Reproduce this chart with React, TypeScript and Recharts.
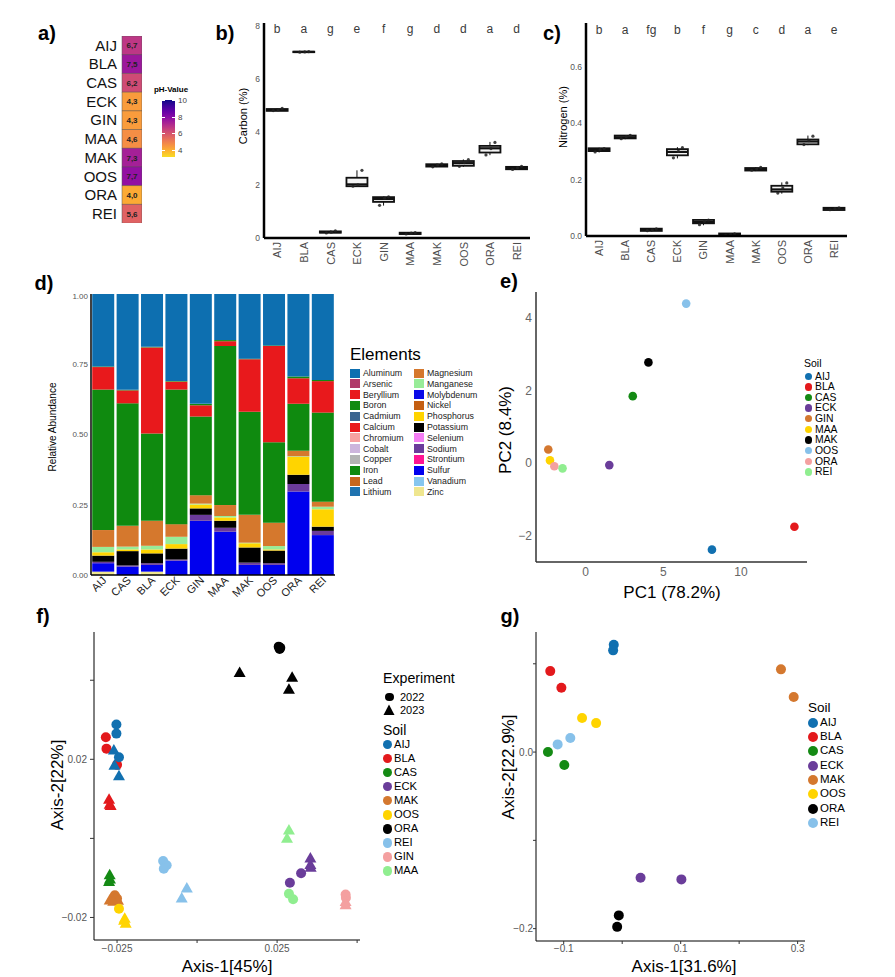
import React from 'react';
import { BarChart, Bar, XAxis, YAxis, Cell, LabelList, ScatterChart, Scatter } from 'recharts';

const FONT = '"Liberation Sans", Arial, Helvetica, sans-serif';

// ---- a) pH heatmap
const phSites = ['AIJ', 'BLA', 'CAS', 'ECK', 'GIN', 'MAA', 'MAK', 'OOS', 'ORA', 'REI'];
const phValues = [6.7, 7.5, 6.2, 4.3, 4.3, 4.6, 7.3, 7.7, 4.0, 5.6];
const phTicks = [10, 8, 6, 4];

// ---- b/c) carbon + nitrogen boxplots
const boxSites = ['AIJ', 'BLA', 'CAS', 'ECK', 'GIN', 'MAA', 'MAK', 'OOS', 'ORA', 'REI'];
const carbonMin = [4.78, 6.99, 0.18, 1.93, 1.22, 0.14, 2.67, 2.68, 3.12, 2.57];
const carbonQ1 = [4.79, 7.0, 0.2, 1.95, 1.36, 0.15, 2.69, 2.72, 3.22, 2.59];
const carbonMed = [4.82, 7.01, 0.22, 2.02, 1.47, 0.17, 2.74, 2.82, 3.38, 2.64];
const carbonQ3 = [4.86, 7.02, 0.25, 2.27, 1.54, 0.2, 2.78, 2.9, 3.47, 2.68];
const carbonMax = [4.88, 7.03, 0.28, 2.55, 1.56, 0.21, 2.8, 2.96, 3.62, 2.71];
const carbonPts = [
  [4.8, 4.83, 4.88], [7.0, 7.01, 7.02], [0.19, 0.22, 0.27], [1.95, 2.0, 2.55], [1.23, 1.5, 1.55],
  [0.15, 0.18, 0.2], [2.68, 2.75, 2.79], [2.7, 2.84, 2.95], [3.13, 3.37, 3.6], [2.58, 2.65, 2.7],
];
const carbonLetters = ['b', 'a', 'g', 'e', 'f', 'g', 'd', 'd', 'a', 'd'];

const nitroMin = [0.296, 0.343, 0.016, 0.275, 0.038, 0.0, 0.23, 0.15, 0.322, 0.09];
const nitroQ1 = [0.301, 0.346, 0.018, 0.286, 0.045, 0.001, 0.232, 0.157, 0.325, 0.092];
const nitroMed = [0.305, 0.35, 0.022, 0.298, 0.05, 0.005, 0.237, 0.165, 0.335, 0.097];
const nitroQ3 = [0.311, 0.356, 0.026, 0.308, 0.057, 0.009, 0.241, 0.178, 0.342, 0.1];
const nitroMax = [0.313, 0.358, 0.027, 0.315, 0.058, 0.01, 0.244, 0.19, 0.356, 0.101];
const nitroPts = [
  [0.298, 0.306, 0.31], [0.345, 0.352, 0.357], [0.019, 0.022, 0.025], [0.277, 0.3, 0.313], [0.04, 0.052, 0.056],
  [0.002, 0.005, 0.008], [0.233, 0.238, 0.243], [0.152, 0.17, 0.188], [0.324, 0.338, 0.354], [0.093, 0.097, 0.1],
];
const nitroLetters = ['b', 'a', 'fg', 'b', 'f', 'g', 'c', 'd', 'a', 'e'];

// ---- d) element composition (stack order bottom -> top)
const dSites = ['AIJ', 'CAS', 'BLA', 'ECK', 'GIN', 'MAA', 'MAK', 'OOS', 'ORA', 'REI'];
const zinc = [0.012, 0, 0.012, 0, 0, 0, 0, 0, 0, 0];
const sulfur = [0.03, 0.03, 0.024, 0.051, 0.193, 0.154, 0.036, 0.036, 0.297, 0.142];
const sodium = [0.005, 0.004, 0.006, 0.004, 0.021, 0.014, 0.008, 0.006, 0.027, 0.015];
const potassium = [0.022, 0.051, 0.035, 0.039, 0.023, 0.025, 0.054, 0.045, 0.033, 0.015];
const phosphorus = [0.012, 0.006, 0.014, 0.016, 0.014, 0.012, 0.015, 0.004, 0.064, 0.062];
const manganese = [0.019, 0.01, 0.013, 0.026, 0.003, 0.005, 0.002, 0.012, 0.002, 0.009];
const magnesium = [0.06, 0.074, 0.089, 0.045, 0.03, 0.039, 0.099, 0.083, 0.019, 0.018];
const iron = [0.5, 0.436, 0.311, 0.479, 0.28, 0.566, 0.367, 0.286, 0.167, 0.317];
const calcium = [0.08, 0.046, 0.306, 0.028, 0.04, 0.017, 0.187, 0.343, 0.091, 0.112];
const boron = [0.002, 0.002, 0.002, 0.002, 0.005, 0.004, 0.002, 0.002, 0.006, 0.004];
const aluminum = [0.258, 0.341, 0.188, 0.31, 0.391, 0.164, 0.23, 0.183, 0.294, 0.306];

const elementNames = [
  'Aluminum', 'Arsenic', 'Beryllium', 'Boron', 'Cadmium', 'Calcium', 'Chromium', 'Cobalt', 'Copper', 'Iron', 'Lead', 'Lithium',
  'Magnesium', 'Manganese', 'Molybdenum', 'Nickel', 'Phosphorus', 'Potassium', 'Selenium', 'Sodium', 'Strontium', 'Sulfur', 'Vanadium', 'Zinc',
];
const elementColors = [
  '#0d6fb0', '#b03a6a', '#e8191c', '#118a11', '#3b6590', '#e8191c', '#f7a1a1', '#cdb5dc', '#b4b4b4', '#0f8a0f', '#c8671e', '#1f73b0',
  '#d5782d', '#98ec98', '#0a0ae8', '#c45f12', '#ffd400', '#000000', '#f47ef4', '#6b3b9b', '#ff1493', '#0000ee', '#86c6ef', '#efe68f',
];

// ---- e) PCA
const pcaSoil = ['AIJ', 'BLA', 'CAS', 'ECK', 'GIN', 'MAA', 'MAK', 'OOS', 'ORA', 'REI'];
const pc1 = [8.13, 13.44, 3.03, 1.52, -2.41, -2.3, 4.04, 6.47, -2.02, -1.49];
const pc2 = [-2.39, -1.76, 1.84, -0.06, 0.37, 0.07, 2.77, 4.39, -0.09, -0.15];

// ---- f) PCoA both years
const fSoil = [
  'ORA', 'ORA', 'ORA', 'ORA', 'ORA', 'ORA',
  'BLA', 'BLA', 'BLA', 'AIJ', 'AIJ', 'AIJ', 'AIJ', 'AIJ', 'AIJ',
  'BLA', 'BLA', 'BLA', 'CAS', 'CAS', 'CAS',
  'MAK', 'MAK', 'MAK', 'MAK', 'MAK', 'OOS', 'OOS', 'OOS', 'OOS',
  'REI', 'REI', 'REI', 'REI', 'REI',
  'MAA', 'MAA', 'ECK', 'ECK', 'ECK', 'ECK', 'ECK', 'MAA', 'MAA',
  'GIN', 'GIN', 'GIN', 'GIN',
];
const fYear = [
  2023, 2023, 2023, 2022, 2022, 2022,
  2022, 2022, 2022, 2022, 2022, 2022, 2023, 2023, 2023,
  2023, 2023, 2023, 2023, 2023, 2023,
  2022, 2022, 2023, 2023, 2023, 2022, 2023, 2023, 2023,
  2022, 2022, 2022, 2023, 2023,
  2023, 2023, 2023, 2023, 2023, 2022, 2022, 2022, 2022,
  2022, 2022, 2023, 2023,
];
const fAxis1 = [
  0.0133, 0.0297, 0.0287, 0.0255, 0.026, 0.0258,
  -0.0285, -0.0283, -0.025, -0.0252, -0.0252, -0.0244, -0.026, -0.0258, -0.0244,
  -0.0275, -0.0273, -0.027, -0.0273, -0.0275, -0.0272,
  -0.0257, -0.025, -0.0273, -0.0247, -0.0262, -0.0244, -0.0226, -0.0223, -0.0228,
  -0.0106, -0.0095, -0.0104, -0.0032, -0.0048,
  0.0287, 0.0281, 0.0354, 0.0354, 0.0355, 0.0325, 0.029, 0.0287, 0.03,
  0.0464, 0.0465, 0.0464, 0.0464,
];
const fAxis2 = [
  0.0418, 0.0406, 0.0376, 0.0485, 0.0482, 0.0479,
  0.0256, 0.0227, 0.0186, 0.0288, 0.0265, 0.0205, 0.0222, 0.0184, 0.0157,
  0.0098, 0.0085, 0.0082, -0.0093, -0.011, -0.0104,
  -0.0144, -0.0152, -0.0157, -0.0158, -0.016, -0.0178, -0.0203, -0.0216, -0.0208,
  -0.0057, -0.0068, -0.0077, -0.0127, -0.0152,
  0.002, -0.0001, -0.0051, -0.0067, -0.0074, -0.0088, -0.0112, -0.014, -0.0154,
  -0.0142, -0.015, -0.0161, -0.0169,
];
const fLegendSoil = ['AIJ', 'BLA', 'CAS', 'ECK', 'MAK', 'OOS', 'ORA', 'REI', 'GIN', 'MAA'];

// ---- g) PCoA single year
const gSoil = ['AIJ', 'AIJ', 'BLA', 'BLA', 'OOS', 'OOS', 'REI', 'REI', 'CAS', 'CAS', 'MAK', 'MAK', 'ECK', 'ECK', 'ORA', 'ORA'];
const gAxis1 = [-0.0144, -0.0155, -0.123, -0.104, -0.0686, -0.0446, -0.0887, -0.1104, -0.127, -0.099, 0.2715, 0.2933, 0.0314, 0.1012, -0.0058, -0.0086];
const gAxis2 = [0.1216, 0.1152, 0.0917, 0.0729, 0.0385, 0.0328, 0.0159, 0.0087, 0.0, -0.0147, 0.0937, 0.0623, -0.1423, -0.1442, -0.185, -0.198];
const gLegendSoil = ['AIJ', 'BLA', 'CAS', 'ECK', 'MAK', 'OOS', 'ORA', 'REI'];

const soilColor: Record<string, string> = {
  AIJ: '#1170b0', BLA: '#e3191c', CAS: '#148a14', ECK: '#6a3d9a', GIN: '#d4782f',
  MAA: '#ffd400', MAK: '#000000', OOS: '#87c1ea', ORA: '#f4a0a0', REI: '#90ee90',
};
// panel f/g use a different soil palette
const soilColorF: Record<string, string> = {
  AIJ: '#1170b0', BLA: '#e3191c', CAS: '#148a14', ECK: '#6a3d9a', MAK: '#d4782f',
  OOS: '#ffd400', ORA: '#000000', REI: '#87c1ea', GIN: '#f4a0a0', MAA: '#90ee90',
};

// plasma colour scale, reversed (high pH = dark)
const plasmaStops = ['#0d0887', '#41049d', '#6a00a8', '#8f0da4', '#b12a90', '#cc4778', '#e16462', '#f2844b', '#fca636', '#fcce25', '#f0f921'];
const hex = (h: string) => [1, 3, 5].map((i) => parseInt(h.slice(i, i + 2), 16));
const plasma = (t: number) => {
  const c = Math.min(Math.max(t, 0), 1) * 10;
  const i = Math.min(Math.floor(c), 9);
  const f = c - i;
  const a = hex(plasmaStops[i]);
  const b = hex(plasmaStops[i + 1]);
  return `rgb(${a.map((v, k) => Math.round(v + (b[k] - v) * f)).join(',')})`;
};
const phColor = (ph: number) => plasma((10 - ph) / 7.4);

const phRows = phSites.map((s, i) => ({ site: s, ph: phValues[i], span: 1, label: phValues[i].toFixed(1).replace('.', ',') }));
const carbonRows = boxSites.map((s, i) => ({
  site: s, range: [carbonMin[i], carbonMax[i]], min: carbonMin[i], q1: carbonQ1[i], med: carbonMed[i],
  q3: carbonQ3[i], max: carbonMax[i], pts: carbonPts[i], letter: carbonLetters[i],
}));
const nitroRows = boxSites.map((s, i) => ({
  site: s, range: [nitroMin[i], nitroMax[i]], min: nitroMin[i], q1: nitroQ1[i], med: nitroMed[i],
  q3: nitroQ3[i], max: nitroMax[i], pts: nitroPts[i], letter: nitroLetters[i],
}));
const stackSeries: [string, number[]][] = [
  ['Zinc', zinc], ['Sulfur', sulfur], ['Sodium', sodium], ['Potassium', potassium], ['Phosphorus', phosphorus],
  ['Manganese', manganese], ['Magnesium', magnesium], ['Iron', iron], ['Calcium', calcium], ['Boron', boron], ['Aluminum', aluminum],
];
const elemRows = dSites.map((s, i) => {
  const row: Record<string, any> = { site: s };
  stackSeries.forEach(([name, vals]) => { row[name] = vals[i]; });
  return row;
});
const colorOf = (name: string) => elementColors[elementNames.indexOf(name)];
const pcaRows = pcaSoil.map((s, i) => ({ soil: s, x: pc1[i], y: pc2[i] }));
const fRows = fSoil.map((s, i) => ({ soil: s, year: fYear[i], x: fAxis1[i], y: fAxis2[i] }));
const gRows = gSoil.map((s, i) => ({ soil: s, x: gAxis1[i], y: gAxis2[i] }));

const minus = (s: string) => s.replace('-', '\u2212');

const Txt = ({ x, y, size, rot = 0, weight = 400, color = '#000', start = false, children }: any) => (
  <div
    style={{
      position: 'absolute', left: x, top: y, fontSize: size, fontWeight: weight, color, whiteSpace: 'nowrap', lineHeight: 1,
      transform: `translate(${start ? '0' : '-50%'}, -50%) rotate(${rot}deg)`,
    }}
  >
    {children}
  </div>
);

const Box = ({ x, y, children }: any) => <div style={{ position: 'absolute', left: x, top: y }}>{children}</div>;

const makeBoxShape = (letterLevel: number) => (props: any) => {
  const { x, y, width, height, payload } = props;
  const top = Math.min(y, y + height);
  const h = Math.abs(height);
  const ppu = h / (payload.max - payload.min);
  const py = (v: number) => top + (payload.max - v) * ppu;
  const cx = x + width / 2;
  const jit = [-4, 1, 5];
  return (
    <g>
      <text x={cx} y={py(letterLevel)} textAnchor="middle" dominantBaseline="middle" fontSize={12} fill="#3a3a3a" fontFamily={FONT}>
        {payload.letter}
      </text>
      <line x1={cx} x2={cx} y1={py(payload.max)} y2={py(payload.min)} stroke="#111" strokeWidth={1} />
      <rect x={x} y={py(payload.q3)} width={width} height={Math.max(py(payload.q1) - py(payload.q3), 0.5)} fill="#f4f4f4" stroke="#111" strokeWidth={1.8} />
      <line x1={x} x2={x + width} y1={py(payload.med)} y2={py(payload.med)} stroke="#111" strokeWidth={2.2} />
      {payload.pts.map((p: number, i: number) => (
        <circle key={i} cx={cx + jit[i]} cy={py(p)} r={1.6} fill="#222" opacity={0.85} />
      ))}
    </g>
  );
};

const VertTick = ({ x, y, payload }: any) => (
  <text x={x + 4} y={y} transform={`rotate(-90, ${x + 4}, ${y})`} textAnchor="end" fontSize={11} fill="#4d4d4d" fontFamily={FONT}>
    {payload.value}
  </text>
);

const DiagTick = ({ x, y, payload }: any) => (
  <text x={x + 4} y={y} transform={`rotate(-45, ${x + 4}, ${y})`} textAnchor="end" fontSize={11} fill="#222" fontFamily={FONT}>
    {payload.value}
  </text>
);

const dot = (r: number, colors: Record<string, string>) => (props: any) => (
  <circle cx={props.cx} cy={props.cy} r={r} fill={colors[props.payload.soil]} />
);

const fShape = (props: any) => {
  const { cx, cy, payload } = props;
  const c = soilColorF[payload.soil];
  if (payload.year === 2022) return <circle cx={cx} cy={cy} r={5} fill={c} />;
  return <polygon points={`${cx},${cy - 6.5} ${cx - 6},${cy + 4} ${cx + 6},${cy + 4}`} fill={c} />;
};

const BoxPlot = ({ rows, domain, ticks, letterLevel, width, height, fmt }: any) => (
  <BarChart width={width} height={height} data={rows} margin={{ top: 10, right: 2, bottom: 0, left: 0 }} barCategoryGap="10%">
    <XAxis dataKey="site" height={40} tickLine={false} tickSize={0} tickMargin={4} interval={0} axisLine={{ stroke: '#000', strokeWidth: 2.5 }} tick={<VertTick />} />
    <YAxis
      type="number" domain={domain} ticks={ticks} allowDataOverflow width={30} tickLine={false} tickSize={0} tickMargin={4}
      tickFormatter={fmt} axisLine={{ stroke: '#000', strokeWidth: 2.5 }} tick={{ fontSize: 8.5, fill: '#555', fontFamily: FONT }}
    />
    <Bar dataKey="range" shape={makeBoxShape(letterLevel)} isAnimationActive={false} />
  </BarChart>
);

export default function App() {
  const half = Math.ceil(elementNames.length / 2);
  return (
    <div style={{ position: 'absolute', left: 0, top: 0, width: 895, height: 977, background: '#fff', overflow: 'hidden', fontFamily: FONT }}>
      {/* panel letters */}
      <Txt x={47} y={33} size={20} weight={700}>a)</Txt>
      <Txt x={225} y={33} size={20} weight={700}>b)</Txt>
      <Txt x={552} y={33} size={20} weight={700}>c)</Txt>
      <Txt x={44} y={283} size={20} weight={700}>d)</Txt>
      <Txt x={509} y={281} size={20} weight={700}>e)</Txt>
      <Txt x={43} y={616} size={20} weight={700}>f)</Txt>
      <Txt x={510} y={616} size={20} weight={700}>g)</Txt>

      {/* a) heatmap */}
      <Box x={60} y={36}>
        <BarChart layout="vertical" width={82} height={187} data={phRows} margin={{ top: 0, right: 0, bottom: 0, left: 0 }} barCategoryGap={0}>
          <XAxis type="number" hide domain={[0, 1]} />
          <YAxis type="category" dataKey="site" width={62} interval={0} tickLine={false} axisLine={false} tickSize={3} tickMargin={2} tick={{ fontSize: 15, fill: '#111', fontFamily: FONT }} />
          <Bar dataKey="span" isAnimationActive={false} stroke="#555" strokeWidth={0.5}>
            {phRows.map((r, i) => <Cell key={i} fill={phColor(r.ph)} />)}
            <LabelList dataKey="label" position="center" style={{ fontSize: 8, fontWeight: 700, fill: '#222', fontFamily: FONT }} />
          </Bar>
        </BarChart>
      </Box>
      <Txt x={171} y={90} size={8} weight={700}>pH-Value</Txt>
      <div
        style={{
          position: 'absolute', left: 162, top: 100, width: 13, height: 57,
          background: `linear-gradient(to top, ${Array.from({ length: 11 }, (_, k) => phColor(3.1 + k * 0.69)).join(', ')})`,
        }}
      />
      {phTicks.map((t) => (
        <React.Fragment key={t}>
          <div style={{ position: 'absolute', left: 162, top: 100 + ((10 - t) / 6.9) * 57, width: 3, height: 1, background: '#fff' }} />
          <div style={{ position: 'absolute', left: 172, top: 100 + ((10 - t) / 6.9) * 57, width: 3, height: 1, background: '#fff' }} />
          <Txt x={178} y={101 + ((10 - t) / 6.9) * 57} size={8} color="#444" start>{t}</Txt>
        </React.Fragment>
      ))}

      {/* b) carbon */}
      <Box x={234} y={13}>
        <BoxPlot rows={carbonRows} domain={[0, 8.1]} ticks={[0, 2, 4, 6, 8]} letterLevel={7.85} width={298} height={265} fmt={(v: number) => String(v)} />
      </Box>
      <Txt x={243} y={116} size={11} rot={-90}>Carbon (%)</Txt>

      {/* c) nitrogen */}
      <Box x={556} y={13}>
        <BoxPlot rows={nitroRows} domain={[0, 0.755]} ticks={[0, 0.2, 0.4, 0.6]} letterLevel={0.728} width={293} height={263} fmt={(v: number) => v.toFixed(1)} />
      </Box>
      <Txt x={563} y={117} size={11} rot={-90}>Nitrogen (%)</Txt>

      {/* d) element composition */}
      <Box x={43} y={292}>
        <BarChart width={294} height={313} data={elemRows} margin={{ top: 2, right: 2, bottom: 0, left: 0 }} barCategoryGap="5%">
          <XAxis dataKey="site" height={30} interval={0} tickLine={false} tickSize={0} tickMargin={6} axisLine={{ stroke: '#000', strokeWidth: 1.5 }} tick={<DiagTick />} />
          <YAxis
            type="number" domain={[0, 1]} ticks={[0, 0.25, 0.5, 0.75, 1]} width={48} tickLine={false} tickSize={0} tickMargin={3}
            tickFormatter={(v: number) => v.toFixed(2)} axisLine={{ stroke: '#000', strokeWidth: 1.5 }} tick={{ fontSize: 8, fill: '#555', fontFamily: FONT }}
          />
          {stackSeries.map(([name]) => (
            <Bar key={name} dataKey={name} stackId="el" fill={colorOf(name)} isAnimationActive={false} />
          ))}
        </BarChart>
      </Box>
      <Txt x={53} y={427} size={10} rot={-90}>Relative Abundance</Txt>
      <Txt x={350} y={354} size={17} start>Elements</Txt>
      {elementNames.map((name, i) => {
        const col = i < half ? 0 : 1;
        const row = i % half;
        const sx = col === 0 ? 350 : 414;
        const cy = 373 + row * 10.8;
        return (
          <React.Fragment key={name}>
            <div style={{ position: 'absolute', left: sx, top: cy - 4.5, width: 10, height: 9, background: elementColors[i] }} />
            <Txt x={sx + 13} y={cy} size={8.8} color="#222" start>{name}</Txt>
          </React.Fragment>
        );
      })}

      {/* e) PCA */}
      <Box x={496} y={287}>
        <ScatterChart width={311} height={315} margin={{ top: 5, right: 0, bottom: 0, left: 0 }}>
          <XAxis
            type="number" dataKey="x" domain={[-3.2, 14.25]} ticks={[0, 5, 10]} allowDataOverflow height={40} tickLine={false} tickSize={3} tickMargin={2}
            axisLine={{ stroke: '#333', strokeWidth: 1.5 }} tick={{ fontSize: 12, fill: '#666', fontFamily: FONT }}
          />
          <YAxis
            type="number" dataKey="y" domain={[-2.73, 4.71]} ticks={[-2, 0, 2, 4]} allowDataOverflow width={40} tickLine={false} tickSize={2} tickMargin={2}
            tickFormatter={(v: number) => minus(String(v))} axisLine={{ stroke: '#333', strokeWidth: 1.5 }} tick={{ fontSize: 12, fill: '#666', fontFamily: FONT }}
          />
          <Scatter data={pcaRows} shape={dot(4.3, soilColor)} isAnimationActive={false} />
        </ScatterChart>
      </Box>
      <Txt x={672} y={592} size={17}>PC1 (78.2%)</Txt>
      <Txt x={505} y={430} size={17} rot={-90}>PC2 (8.4%)</Txt>
      <Txt x={804} y={363} size={10.5} start>Soil</Txt>
      {pcaSoil.map((s, i) => (
        <React.Fragment key={s}>
          <div style={{ position: 'absolute', left: 805, top: 372.5 + i * 10.63, width: 7.4, height: 7.4, borderRadius: '50%', background: soilColor[s] }} />
          <Txt x={815} y={376.5 + i * 10.63} size={10.4} start>{s}</Txt>
        </React.Fragment>
      ))}

      {/* f) PCoA */}
      <Box x={49} y={627}>
        <ScatterChart width={311} height={353} margin={{ top: 5, right: 0, bottom: 0, left: 0 }}>
          <XAxis
            type="number" dataKey="x" domain={[-0.0322, 0.0509]} ticks={[-0.025, 0, 0.025, 0.05]} allowDataOverflow height={40} tickSize={3} tickMargin={2}
            tickFormatter={(v: number) => (v === -0.025 || v === 0.025 ? minus(v.toFixed(3)) : '')}
            tickLine={{ stroke: '#333' }} axisLine={{ stroke: '#000', strokeWidth: 1 }} tick={{ fontSize: 10, fill: '#555', fontFamily: FONT }}
          />
          <YAxis
            type="number" dataKey="y" domain={[-0.0257, 0.0522]} ticks={[-0.02, 0, 0.02, 0.04]} allowDataOverflow width={45} tickSize={4} tickMargin={3}
            tickFormatter={(v: number) => (v === -0.02 || v === 0.02 ? minus(v.toFixed(2)) : '')}
            tickLine={{ stroke: '#333' }} axisLine={{ stroke: '#000', strokeWidth: 1 }} tick={{ fontSize: 10, fill: '#555', fontFamily: FONT }}
          />
          <Scatter data={fRows} shape={fShape} isAnimationActive={false} />
        </ScatterChart>
      </Box>
      <Txt x={227} y={966} size={17}>Axis-1[45%]</Txt>
      <Txt x={57} y={785} size={17} rot={-90}>Axis-2[22%]</Txt>
      <Txt x={383} y={678} size={14.2} start>Experiment</Txt>
      <div style={{ position: 'absolute', left: 385, top: 692.5, width: 8.5, height: 8.5, borderRadius: '50%', background: '#000' }} />
      <Txt x={400} y={697} size={11} start>2022</Txt>
      <svg style={{ position: 'absolute', left: 383, top: 704 }} width={12} height={12}>
        <polygon points="6,0.5 0.5,11 11.5,11" fill="#000" />
      </svg>
      <Txt x={400} y={710} size={11} start>2023</Txt>
      <Txt x={383} y={730} size={14} start>Soil</Txt>
      {fLegendSoil.map((s, i) => (
        <React.Fragment key={s}>
          <div style={{ position: 'absolute', left: 382.5, top: 739.5 + i * 14.1, width: 9.6, height: 9.6, borderRadius: '50%', background: soilColorF[s] }} />
          <Txt x={394} y={744.5 + i * 14.1} size={11.2} start>{s}</Txt>
        </React.Fragment>
      ))}

      {/* g) PCoA single year */}
      <Box x={496} y={627}>
        <ScatterChart width={309} height={354} margin={{ top: 5, right: 0, bottom: 0, left: 0 }}>
          <XAxis
            type="number" dataKey="x" domain={[-0.1474, 0.3126]} ticks={[-0.1, 0, 0.1, 0.2, 0.3]} allowDataOverflow height={40} tickSize={3} tickMargin={1}
            tickFormatter={(v: number) => (v === 0 || v === 0.2 ? '' : minus(v.toFixed(1)))}
            tickLine={{ stroke: '#333' }} axisLine={{ stroke: '#000', strokeWidth: 1 }} tick={{ fontSize: 10, fill: '#555', fontFamily: FONT }}
          />
          <YAxis
            type="number" dataKey="y" domain={[-0.214, 0.136]} ticks={[-0.2, -0.1, 0, 0.1]} allowDataOverflow width={40} tickSize={3} tickMargin={0}
            tickFormatter={(v: number) => (v === 0 || v === -0.2 ? minus(v.toFixed(1)) : '')}
            tickLine={{ stroke: '#333' }} axisLine={{ stroke: '#000', strokeWidth: 1 }} tick={{ fontSize: 10, fill: '#555', fontFamily: FONT }}
          />
          <Scatter data={gRows} shape={dot(5, soilColorF)} isAnimationActive={false} />
        </ScatterChart>
      </Box>
      <Txt x={684} y={966} size={17}>Axis-1[31.6%]</Txt>
      <Txt x={508} y={767} size={17} rot={-90}>Axis-2[22.9%]</Txt>
      <Txt x={808} y={708} size={13.5} start>Soil</Txt>
      {gLegendSoil.map((s, i) => (
        <React.Fragment key={s}>
          <div style={{ position: 'absolute', left: 808.3, top: 717.7 + i * 14.3, width: 10, height: 10, borderRadius: '50%', background: soilColorF[s] }} />
          <Txt x={820} y={722.7 + i * 14.3} size={11.5} start>{s}</Txt>
        </React.Fragment>
      ))}
    </div>
  );
}
